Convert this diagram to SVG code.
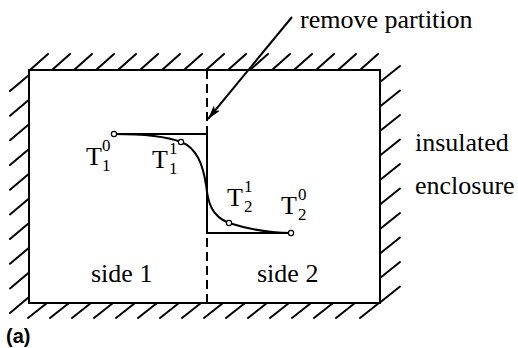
<svg xmlns="http://www.w3.org/2000/svg" width="518" height="348" viewBox="0 0 518 348">
<defs>
<style>
.ln{stroke:#000;stroke-width:2;fill:none}
.h{stroke:#000;stroke-width:2;fill:none;stroke-linecap:round}
.t{font-family:"Liberation Serif","Times New Roman",serif;font-size:26px;fill:#000}
.s{font-family:"Liberation Serif","Times New Roman",serif;font-size:17px;fill:#000}
.pt{fill:#fff;stroke:#000;stroke-width:1.2}
</style>
<marker id="ah" viewBox="0 0 14 8" refX="14" refY="4" markerWidth="14" markerHeight="8" orient="auto" markerUnits="userSpaceOnUse">
<path d="M0,0 L14,4 L0,8 L3,4 Z" fill="#000"/>
</marker>
</defs>
<rect width="518" height="348" fill="#fff"/>
<g id="enclosure">
<rect x="29" y="70" width="351" height="233" class="ln"/>
<g id="hatch-top">
<path class="h" d="M30,70 l18,-16 M52,70 l18,-16 M74,70 l18,-16 M96,70 l18,-16 M118,70 l18,-16 M140,70 l18,-16 M162,70 l18,-16 M184,70 l18,-16 M206,70 l18,-16 M228,70 l18,-16 M250,70 l18,-16 M272,70 l18,-16 M294,70 l18,-16 M316,70 l18,-16 M338,70 l18,-16 M360,70 l18,-16"/>
</g>
<g id="hatch-left">
<path class="h" d="M29,75 l-19,16 M29,99.7 l-19,16 M29,124.3 l-19,16 M29,149 l-19,16 M29,173.8 l-19,16 M29,198.4 l-19,16 M29,223 l-19,16 M29,247.8 l-19,16 M29,272.4 l-19,16 M29,297 l-19,16"/>
</g>
<g id="hatch-right">
<path class="h" d="M380,82 l20,-16 M380,106.5 l20,-16 M380,131 l20,-16 M380,155.5 l20,-16 M380,180 l20,-16 M380,204.5 l20,-16 M380,229 l20,-16 M380,253.5 l20,-16 M380,278 l20,-16 M380,302.5 l20,-16"/>
</g>
<g id="hatch-bottom">
<path class="h" d="M47,303 l-19,15 M69,303 l-19,15 M91,303 l-19,15 M113,303 l-19,15 M135,303 l-19,15 M157,303 l-19,15 M179,303 l-19,15 M201,303 l-19,15 M223,303 l-19,15 M245,303 l-19,15 M267,303 l-19,15 M289,303 l-19,15 M311,303 l-19,15 M333,303 l-19,15 M355,303 l-19,15 M379,303 l-19,15"/>
</g>
</g>
<g id="partition">
<line x1="207" y1="70" x2="207" y2="303" class="ln" stroke-dasharray="9,5"/>
</g>
<g id="connectors">
<line x1="292" y1="17" x2="208" y2="119" stroke="#000" stroke-width="2" marker-end="url(#ah)"/>
</g>
<g id="profiles">
<path class="ln" d="M114,134 H207 V233 H291"/>
<path class="ln" stroke-width="2.4" d="M114,134 C150,134 168,137 181,142 C197,148 203,165 206,185 C208,202 211,216 229,223 C248,229 270,233 291,233"/>
<circle class="pt" cx="114" cy="134" r="2.6"/>
<circle class="pt" cx="181" cy="142" r="2.6"/>
<circle class="pt" cx="229" cy="223" r="2.6"/>
<circle class="pt" cx="291" cy="233" r="2.6"/>
</g>
<g id="labels">
<text class="t" x="300" y="28">remove partition</text>
<text class="t" x="415" y="151">insulated</text>
<text class="t" x="415" y="194">enclosure</text>
<text class="t" x="91" y="282">side 1</text>
<text class="t" x="257" y="282">side 2</text>
<text class="t" x="86" y="165">T</text><text class="s" x="102" y="151">0</text><text class="s" x="102" y="171">1</text>
<text class="t" x="152" y="168">T</text><text class="s" x="169" y="154">1</text><text class="s" x="169" y="174">1</text>
<text class="t" x="227" y="206">T</text><text class="s" x="244" y="192">1</text><text class="s" x="244" y="212">2</text>
<text class="t" x="281" y="214">T</text><text class="s" x="298" y="200">0</text><text class="s" x="298" y="220">2</text>
<text x="6" y="343" font-family="Liberation Sans, Arial, sans-serif" font-weight="bold" font-size="20" fill="#000">(a)</text>
</g>
</svg>
